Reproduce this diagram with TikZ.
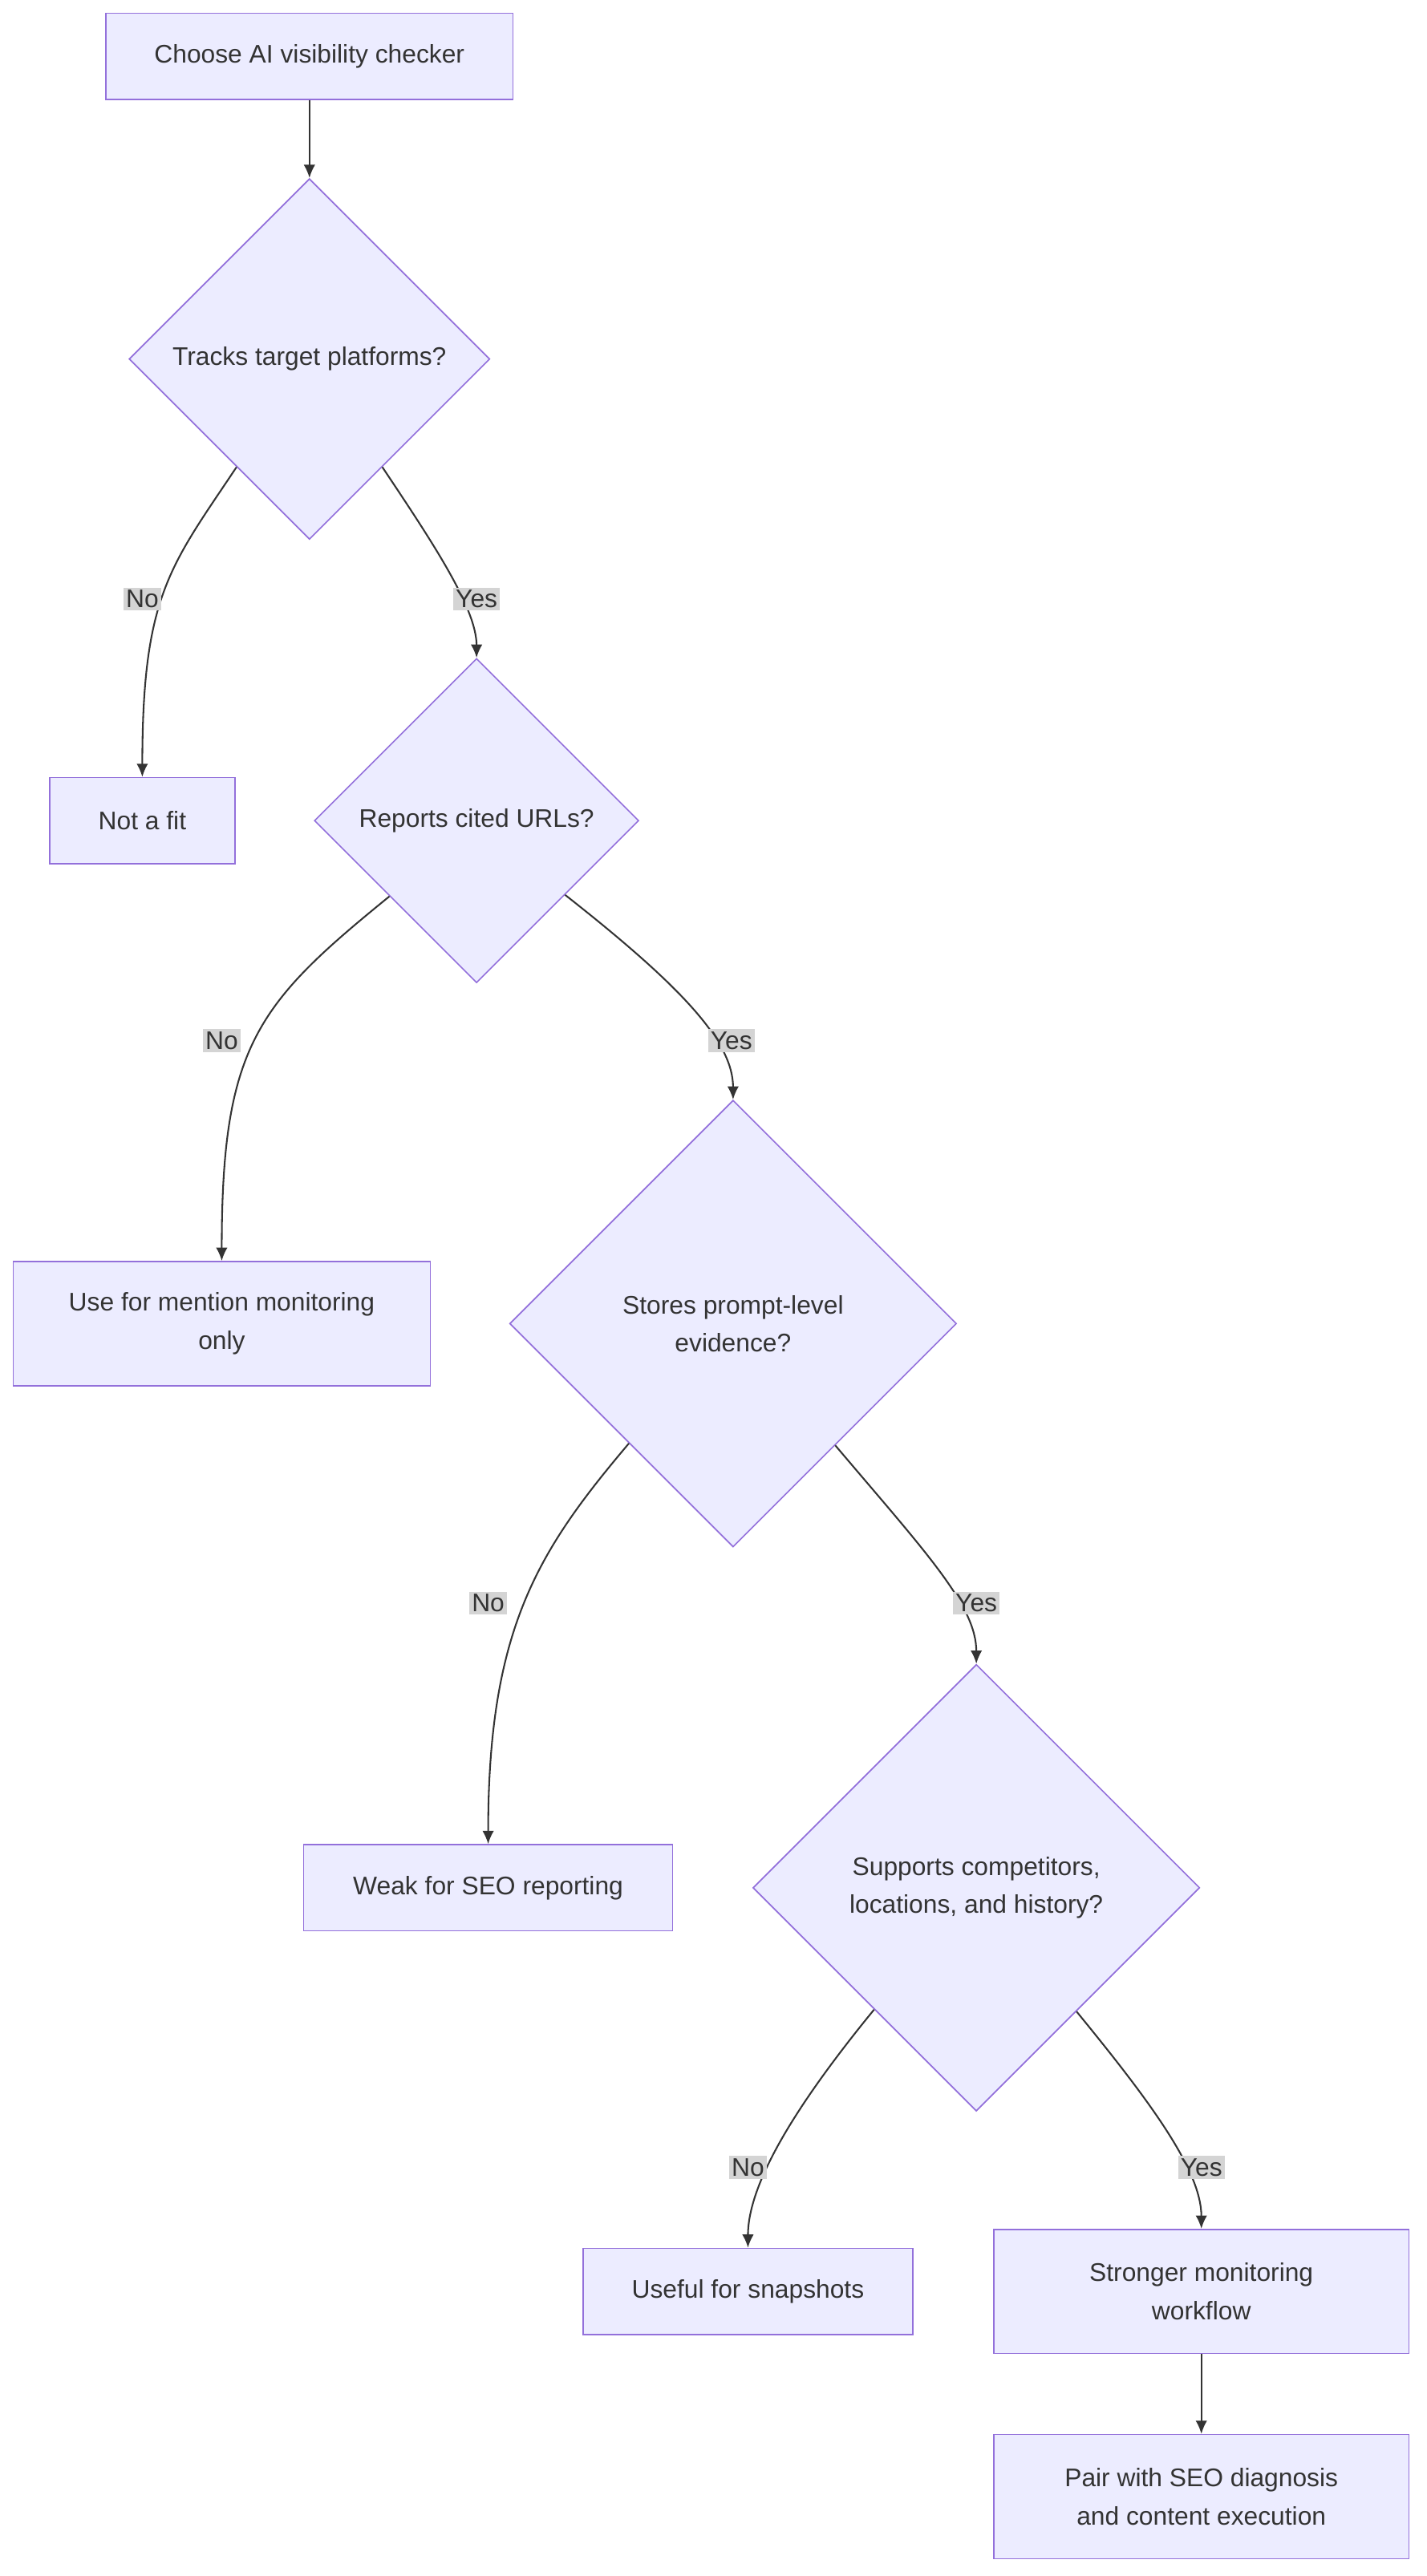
\documentclass[tikz,border=0pt]{standalone}
\usepackage{fontspec}
\setmainfont{Liberation Sans}
\usetikzlibrary{shapes.geometric,arrows.meta}
\definecolor{nodefill}{HTML}{ECECFF}
\definecolor{nodeline}{HTML}{9370DB}
\definecolor{txt}{HTML}{333333}
\definecolor{lbl}{HTML}{D4D4D4}
\begin{document}
\begin{tikzpicture}[x=1pt,y=1pt,
  every node/.style={font=\fontsize{15.4}{23}\selectfont, text=txt},
  box/.style={draw=nodeline, fill=nodefill, line width=0.8pt, inner sep=0pt, align=center},
  dia/.style={diamond, draw=nodeline, fill=nodefill, line width=0.8pt, inner sep=0pt, align=center},
  elabel/.style={fill=lbl, inner sep=1.5pt},
  conn/.style={draw=txt, line width=1pt, -{Latex[length=8pt,width=7pt]}}]
\useasboundingbox (0,0) rectangle (862,-1557);
\node[box, minimum width=246, minimum height=52] (a) at (187,-34) {Choose AI visibility checker};
\node[dia, minimum width=218, minimum height=218] (d1) at (187,-217) {Tracks target platforms?};
\node[box, minimum width=112, minimum height=52] (nf) at (86,-496) {Not a fit};
\node[dia, minimum width=196, minimum height=196] (d2) at (288,-496) {Reports cited URLs?};
\node[box, minimum width=252, minimum height=75] (um) at (134,-800) {Use for mention monitoring\\only};
\node[dia, minimum width=270, minimum height=270] (d3) at (443,-800) {Stores prompt-level\\evidence?};
\node[box, minimum width=223, minimum height=52] (wk) at (295,-1141) {Weak for SEO reporting};
\node[dia, minimum width=270, minimum height=270] (d4) at (590,-1141) {Supports competitors,\\locations, and history?};
\node[box, minimum width=199, minimum height=52] (us) at (452,-1385) {Useful for snapshots};
\node[box, minimum width=251, minimum height=75] (sm) at (726,-1385) {Stronger monitoring\\workflow};
\node[box, minimum width=251, minimum height=75] (pw) at (726,-1509) {Pair with SEO diagnosis\\and content execution};

\draw[conn] (a) -- (d1);
\draw[conn] (d1.236) .. controls +(-40,-60) and +(0,110) .. (nf.north);
\draw[conn] (d1.304) .. controls +(30,-45) and +(0,30) .. (d2.north);
\draw[conn] (d2.221) .. controls +(-80,-65) and +(0,130) .. (um.north);
\draw[conn] (d2.320) .. controls +(70,-55) and +(0,35) .. (d3.north);
\draw[conn] (d3.229) .. controls +(-55,-65) and +(0,130) .. (wk.north);
\draw[conn] (d3.310) .. controls +(55,-65) and +(0,35) .. (d4.north);
\draw[conn] (d4.230.5) .. controls +(-45,-55) and +(0,40) .. (us.north);
\draw[conn] (d4.309) .. controls +(45,-55) and +(0,35) .. (sm.north);
\draw[conn] (sm) -- (pw);

\node[elabel] (l1) at (86,-362) {No};
\node[elabel] (l2) at (288,-362) {Yes};
\node[elabel] (l3) at (134,-629) {No};
\node[elabel] (l4) at (442,-629) {Yes};
\node[elabel] (l5) at (295,-969) {No};
\node[elabel] (l6) at (590,-969) {Yes};
\node[elabel] (l7) at (452,-1310) {No};
\node[elabel] (l8) at (726,-1310) {Yes};
\end{tikzpicture}
\end{document}
